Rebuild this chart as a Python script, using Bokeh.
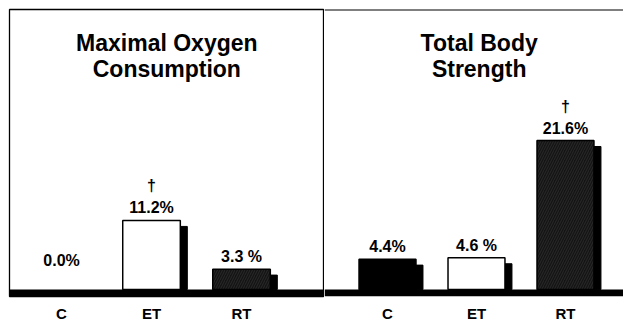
import numpy as np
from bokeh.plotting import figure
from bokeh.layouts import row
from bokeh.models import Range1d, FixedTicker, BoxAnnotation, Span
from bokeh.core.properties import value
from bokeh.embed import file_html
from bokeh.resources import INLINE

# ---- data ----
groups = ["C", "ET", "RT"]
vo2_change = [0.0, 11.2, 3.3]
vo2_labels = ["0.0%", "11.2%", "3.3 %"]
vo2_sig = ["", "\u2020", ""]
strength_change = [4.4, 4.6, 21.6]
strength_labels = ["4.4%", "4.6 %", "21.6%"]
strength_sig = ["", "", "\u2020"]
panel_titles = ["Maximal Oxygen\nConsumption", "Total Body\nStrength"]

# ---- styles ----
FONT = "Liberation Sans"
FILLS = np.array(["black", "white", "#141414"])
HATCH = np.array([" ", " ", "/"])
BAR_W = 0.64
SHADOW_PX_X = 7
SHADOW_PX_Y = 6
LABEL_MIN = 2.6
H = 324
TOP = 9
BOTTOM = 25


def panel(vals, labels, sig, title, width, xr, yr, border_left, title_x, outline):
    p = figure(width=width, height=H, x_range=Range1d(*xr), y_range=Range1d(*yr),
               output_backend="svg", toolbar_location=None,
               min_border_left=border_left, min_border_right=0,
               min_border_top=TOP, min_border_bottom=BOTTOM,
               y_axis_location=None)
    p.grid.visible = False
    p.background_fill_color = "white"
    p.border_fill_color = "white"
    if outline:
        p.outline_line_color = "black"
        p.outline_line_width = 1.3
    else:
        p.outline_line_color = None
        p.add_layout(Span(location=yr[1], dimension="width",
                          line_color="black", line_width=2))

    frame_h = H - TOP - BOTTOM
    frame_w = width - border_left
    dx = SHADOW_PX_X * (xr[1] - xr[0]) / frame_w
    dy = SHADOW_PX_Y * (yr[1] - yr[0]) / frame_h

    x = np.arange(len(groups))
    v = np.array(vals)
    m = v > 0

    # drop shadow
    p.vbar(x=x[m] + dx, top=np.maximum(v[m] - dy, 0), bottom=0, width=BAR_W,
           fill_color="black", line_color="black")
    # bars
    p.vbar(x=x[m], top=v[m], bottom=0, width=BAR_W, fill_color=list(FILLS[m]),
           line_color="black", line_width=1.5,
           hatch_pattern=list(HATCH[m]), hatch_color="#6e6e6e", hatch_scale=5,
           hatch_weight=0.6, hatch_alpha=0.4)

    # baseline
    p.add_layout(BoxAnnotation(top=0, fill_color="black", fill_alpha=1,
                               line_color=None))

    label_y = np.maximum(v, LABEL_MIN)
    p.text(x=x, y=label_y, text=labels, text_align="center",
           text_baseline="bottom", y_offset=-4, text_font=value(FONT),
           text_font_style="bold", text_font_size="16px", text_color="black")
    p.text(x=x, y=label_y, text=sig, text_align="center",
           text_baseline="bottom", y_offset=-26, text_font=value(FONT),
           text_font_style="bold", text_font_size="16px", text_color="black")

    p.text(x=[title_x], y=[yr[1]], text=[title], text_align="center",
           text_baseline="top", y_offset=20, text_font=value(FONT),
           text_font_style="bold", text_font_size="23px",
           text_line_height=1.0, text_color="black")

    p.xaxis.ticker = FixedTicker(ticks=list(range(len(groups))))
    p.xaxis.major_label_overrides = {i: g for i, g in enumerate(groups)}
    p.xaxis.axis_line_color = None
    p.xaxis.major_tick_line_color = None
    p.xaxis.minor_tick_line_color = None
    p.xaxis.major_tick_out = 0
    p.xaxis.major_tick_in = 0
    p.xaxis.minor_tick_out = 0
    p.xaxis.minor_tick_in = 0
    p.xaxis.major_label_standoff = 8
    p.xaxis.major_label_text_font = FONT
    p.xaxis.major_label_text_font_style = "bold"
    p.xaxis.major_label_text_font_size = "15px"
    p.xaxis.major_label_text_color = "black"
    return p


left = panel(vo2_change, vo2_labels, vo2_sig, panel_titles[0],
             width=324, xr=(-0.578, 2.922), yr=(-1.14, 45.45),
             border_left=9, title_x=1.17, outline=True)
right = panel(strength_change, strength_labels, strength_sig, panel_titles[1],
              width=299, xr=(-0.708, 2.652), yr=(-1.01, 40.6),
              border_left=0, title_x=1.03, outline=False)

layout = row(left, right)
open("out.html", "w").write(file_html(layout, INLINE))
